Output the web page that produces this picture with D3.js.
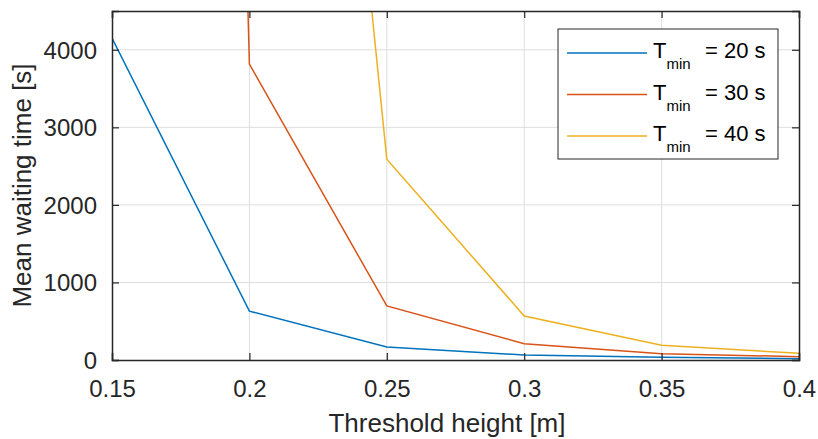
<!DOCTYPE html>
<html>
<head>
<meta charset="utf-8">
<script src="https://cdn.jsdelivr.net/npm/d3@7"></script>
<style>
  body { margin: 0; background: #fff; }
  svg { display: block; font-family: "Liberation Sans", Arial, sans-serif; }
</style>
</head>
<body>
<div id="app"></div>
<script>
// threshold heights [m]
const heights = [0.15, 0.2, 0.25, 0.3, 0.35, 0.4]
// mean waiting time [s], one array per T_min
const wait20 = [4150, 630, 168, 64, 35, 17]
const wait30 = [70000, 3815, 697, 211, 82, 43]
const wait40 = [null, 20100, 2590, 568, 189, 86]
const seriesNames = ['20', '30', '40']
const colors = ['#0072BD', '#D95319', '#EDB120']
const xTicks = [0.15, 0.2, 0.25, 0.3, 0.35, 0.4]
const yTicks = [0, 1000, 2000, 3000, 4000]

const W = 818, H = 439
const m = { left: 112, right: 19, top: 11, bottom: 79 }
const iw = W - m.left - m.right, ih = H - m.top - m.bottom

const svg = d3.select('#app').append('svg').attr('width', W).attr('height', H)

const x = d3.scaleLinear().domain([0.15, 0.4]).range([0, iw])
const y = d3.scaleLinear().domain([0, 4500]).range([ih, 0])

svg.append('defs').append('clipPath').attr('id', 'clip')
  .append('rect').attr('width', iw).attr('height', ih)

const g = svg.append('g').attr('transform', `translate(${m.left},${m.top})`)

// grid
g.append('g').selectAll('line').data(xTicks.slice(1, -1)).enter().append('line')
  .attr('x1', d => x(d)).attr('x2', d => x(d)).attr('y1', 0).attr('y2', ih)
  .attr('stroke', '#dedede').attr('stroke-width', 1)
g.append('g').selectAll('line').data(yTicks.slice(1)).enter().append('line')
  .attr('y1', d => y(d)).attr('y2', d => y(d)).attr('x1', 0).attr('x2', iw)
  .attr('stroke', '#dedede').attr('stroke-width', 1)

// lines
const all = [wait20, wait30, wait40]
const line = d3.line()
  .defined(d => d[1] != null)
  .x(d => x(d[0])).y(d => y(d[1]))
const lines = g.append('g').attr('clip-path', 'url(#clip)')
all.forEach((vals, i) => {
  lines.append('path')
    .datum(heights.map((h, j) => [h, vals[j]]))
    .attr('d', line)
    .attr('fill', 'none')
    .attr('stroke', colors[i])
    .attr('stroke-width', 1.5)
})

// axes (ticks inward, mirrored)
const tickLen = 7
const axisColor = '#262626'
const xb = g.append('g').attr('transform', `translate(0,${ih})`)
  .call(d3.axisBottom(x).tickValues(xTicks).tickSize(-tickLen).tickPadding(20).tickFormat(d3.format('')))
const xt = g.append('g').call(d3.axisTop(x).tickValues(xTicks).tickSize(-tickLen).tickFormat(''))
const yl = g.append('g').call(d3.axisLeft(y).tickValues(yTicks).tickSize(-tickLen).tickPadding(15).tickFormat(d3.format('d')))
const yr = g.append('g').attr('transform', `translate(${iw},0)`)
  .call(d3.axisRight(y).tickValues(yTicks).tickSize(-tickLen).tickFormat(''))

;[xb, xt, yl, yr].forEach(a => {
  a.select('.domain').attr('stroke', axisColor).attr('stroke-width', 1.5)
  a.selectAll('.tick line').attr('stroke', axisColor).attr('stroke-width', 1.2)
  a.selectAll('.tick text').attr('fill', axisColor).style('font-size', '24px')
    .style('font-family', '"Liberation Sans", Arial, sans-serif')
})
xb.selectAll('.tick text').attr('dy', '0.71em')
yl.selectAll('.tick text').attr('dy', '0.35em')

// axis labels
svg.append('text')
  .attr('x', 447).attr('y', 432)
  .attr('text-anchor', 'middle').attr('fill', axisColor)
  .style('font-size', '26px').text('Threshold height [m]')
svg.append('text')
  .attr('transform', `translate(31,${m.top + ih / 2}) rotate(-90)`)
  .attr('text-anchor', 'middle').attr('fill', axisColor)
  .style('font-size', '26px').text('Mean waiting time [s]')

// legend
const lg = svg.append('g').attr('transform', 'translate(558,29)')
lg.append('rect').attr('width', 220).attr('height', 130)
  .attr('fill', '#fff').attr('stroke', axisColor).attr('stroke-width', 1)
seriesNames.forEach((n, i) => {
  const yy = 24 + i * 41.5
  lg.append('line').attr('x1', 9).attr('x2', 89).attr('y1', yy).attr('y2', yy)
    .attr('stroke', colors[i]).attr('stroke-width', 1.5)
  const t = lg.append('text').attr('x', 95).attr('y', yy + 5).attr('fill', '#000')
    .style('font-size', '22px')
  t.append('tspan').text('T')
  t.append('tspan').attr('dy', 11).style('font-size', '15px').text('min')
  t.append('tspan').attr('dy', -11).attr('x', 147).text(`= ${n} s`)
})
</script>
</body>
</html>
